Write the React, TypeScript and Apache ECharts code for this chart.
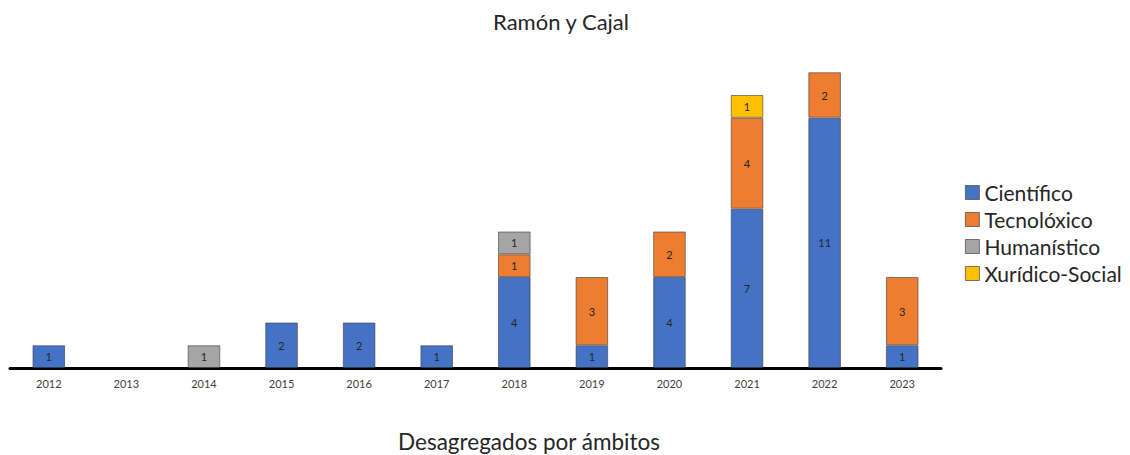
import React, { useEffect, useRef } from "react";
import * as echarts from "echarts";

const years = ["2012", "2013", "2014", "2015", "2016", "2017", "2018", "2019", "2020", "2021", "2022", "2023"];
const cientifico = [1, 0, 0, 2, 2, 1, 4, 1, 4, 7, 11, 1];
const tecnoloxico = [0, 0, 0, 0, 0, 0, 1, 3, 2, 4, 2, 3];
const humanistico = [0, 0, 1, 0, 0, 0, 1, 0, 0, 0, 0, 0];
const xuridico = [0, 0, 0, 0, 0, 0, 0, 0, 0, 1, 0, 0];

const seriesDefs = [
  { name: "Científico", data: cientifico, color: "#4472C4" },
  { name: "Tecnolóxico", data: tecnoloxico, color: "#ED7D31" },
  { name: "Humanístico", data: humanistico, color: "#A5A5A5" },
  { name: "Xurídico-Social", data: xuridico, color: "#FFC000" },
];

const FONT = "Lato, 'Open Sans', sans-serif";

export default function App() {
  const ref = useRef<HTMLDivElement>(null);
  useEffect(() => {
    const chart = echarts.init(ref.current!, null, { renderer: "svg" });
    chart.setOption({
      animation: false,
      backgroundColor: "#ffffff",
      title: [
        {
          text: "Ramón y Cajal",
          left: 556,
          top: 5,
          textAlign: "center",
          textStyle: { fontFamily: FONT, fontSize: 22, fontWeight: "normal", color: "#262626" },
        },
        {
          text: "Desagregados por ámbitos",
          left: 524,
          top: 425,
          textAlign: "center",
          textStyle: { fontFamily: FONT, fontSize: 22.5, fontWeight: "normal", color: "#262626" },
        },
      ],
      legend: {
        orient: "vertical",
        left: 960,
        top: 177,
        itemWidth: 14,
        itemHeight: 14,
        itemGap: 6,
        icon: "rect",
        textStyle: { fontFamily: FONT, fontSize: 21, color: "#262626" },
        data: seriesDefs.map((s) => ({ name: s.name, itemStyle: { borderColor: "#555", borderWidth: 0.8 } })),
      },
      grid: { left: 10, right: 189, top: 49.5, bottom: 87, containLabel: false },
      xAxis: {
        type: "category",
        data: years,
        axisLine: { lineStyle: { color: "#000", width: 3 } },
        axisTick: { show: false },
        axisLabel: { fontFamily: FONT, fontSize: 11, color: "#404040", margin: 10 },
      },
      yAxis: { type: "value", min: 0, max: 14, show: false, splitLine: { show: false } },
      series: seriesDefs.map((s) => ({
        name: s.name,
        type: "bar",
        stack: "total",
        barWidth: "42%",
        data: s.data.map((v) => (v === 0 ? null : v)),
        itemStyle: { color: s.color, borderColor: "rgba(60,60,60,0.6)", borderWidth: 1 },
        label: {
          show: true,
          position: "inside",
          fontFamily: FONT,
          fontSize: 11,
          color: "#262626",
          formatter: (p: any) => (p.value ? String(p.value) : ""),
        },
      })),
    });
    return () => chart.dispose();
  }, []);
  return <div ref={ref} style={{ position: "absolute", left: 0, top: 0, width: 1130, height: 455 }} />;
}
